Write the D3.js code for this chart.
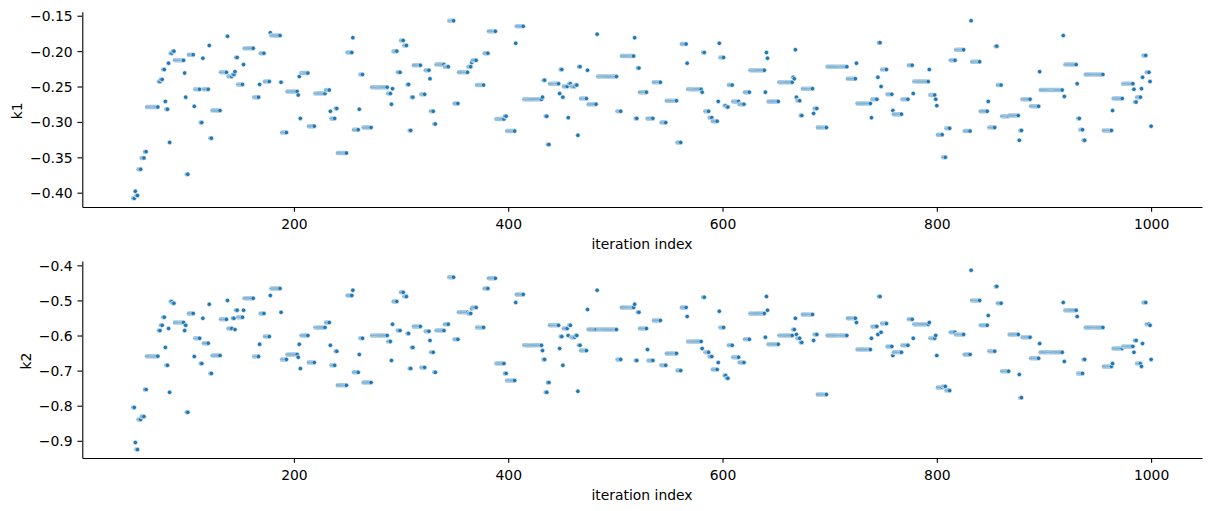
<!DOCTYPE html>
<html><head><meta charset="utf-8">
<script src="https://cdn.jsdelivr.net/npm/d3@7"></script>
<style>
body{margin:0;background:#fff}
svg{display:block}
text{font-family:"DejaVu Sans",sans-serif}
</style>
</head><body>
<svg id="chart" width="1211" height="511"></svg>
<script>
// ---- data: the chain holds a value for a run of iterations; each run ends at runEnd[i]
const iterStart = 50;
const runEnd = [
  51,52,54,57,60,62,73,75,77,79, 80,82,83,84,86,88,97,98,99,101,
  106,107,112,114,115,120,121,123,131,137, 138,142,144,145,147,152,153,162,167,168,
  172,177,178,187,188,193,203,204,205,206, 213,219,229,233,234,238,240,249,254,255,
  260,261,264,272,287,290,291,292,296,299,
  302,305,307,309,311,318,322,326,327,330, 332,340,344,349,353,362,365,366,370,377,
  381,388,396,398,406,407,414,424,431,432, 434,436,438,447,448,450,451,455,456,458,
  462,464,465,467,473,474,482,483,493,501, 505,517,518,520,522,529,530,535,542,547,
  557,561,566,567,
  578,580,581,583,587,590,595,596,597,601, 603,605,609,615,620,625,633,639,640,641,
  642,647,652,661,665,666,667,668,669,672, 674,676,684,685,688,697,702,716,724,725,
  730,738,739,744,745,747,748,753,758,759, 767,773,777,778,786,792,793,798,799,800,
  805,808,812,817,825,831,
  832,840,843,847,848,854,856,860,867,870, 876,877,879,887,895,896,911,917,918,919,
  925,930,931,933,936,938,955,963,964,968, 973,983,984,986,990,991,992,995,998,999,
  1000
];
const k1Run = [
  -0.408,-0.398,-0.404,-0.367,-0.351,-0.342,-0.279,-0.243,-0.240,-0.226, -0.271,-0.282,-0.217,-0.329,-0.203,-0.200,-0.213,-0.231,-0.265,-0.374,
  -0.205,-0.278,-0.254,-0.301,-0.210,-0.254,-0.192,-0.323,-0.284,-0.230, -0.179,-0.236,-0.233,-0.229,-0.209,-0.247,-0.219,-0.196,-0.265,-0.247,
  -0.203,-0.243,-0.174,-0.178,-0.244,-0.315,-0.257,-0.262,-0.236,-0.295, -0.231,-0.306,-0.260,-0.255,-0.285,-0.295,-0.281,-0.344,-0.202,-0.181,
  -0.311,-0.282,-0.233,-0.308,-0.251,-0.260,-0.275,-0.253,-0.200,-0.230,
  -0.185,-0.192,-0.247,-0.312,-0.265,-0.220,-0.261,-0.227,-0.239,-0.285, -0.303,-0.219,-0.222,-0.157,-0.274,-0.230,-0.222,-0.216,-0.213,-0.248,
  -0.203,-0.172,-0.296,-0.292,-0.313,-0.189,-0.165,-0.268,-0.268,-0.265, -0.241,-0.292,-0.332,-0.246,-0.260,-0.226,-0.265,-0.250,-0.294,-0.246,
  -0.250,-0.248,-0.319,-0.222,-0.267,-0.227,-0.275,-0.176,-0.236,-0.236, -0.285,-0.207,-0.181,-0.295,-0.224,-0.258,-0.295,-0.295,-0.244,-0.301,
  -0.270,-0.329,-0.190,-0.217,
  -0.254,-0.254,-0.258,-0.202,-0.285,-0.294,-0.299,-0.271,-0.189,-0.209, -0.277,-0.279,-0.248,-0.271,-0.275,-0.258,-0.227,-0.227,-0.258,-0.202,
  -0.210,-0.271,-0.271,-0.244,-0.244,-0.237,-0.239,-0.198,-0.265,-0.270, -0.291,-0.253,-0.253,-0.288,-0.281,-0.308,-0.222,-0.222,-0.239,-0.217,
  -0.274,-0.274,-0.294,-0.268,-0.237,-0.188,-0.250,-0.226,-0.261,-0.284, -0.289,-0.268,-0.220,-0.260,-0.243,-0.243,-0.226,-0.262,-0.268,-0.277,
  -0.318,-0.350,-0.309,-0.213,-0.198,-0.313,
  -0.157,-0.215,-0.285,-0.285,-0.271,-0.308,-0.193,-0.248,-0.292,-0.291, -0.291,-0.326,-0.312,-0.268,-0.278,-0.229,-0.255,-0.255,-0.178,-0.264,
  -0.219,-0.219,-0.246,-0.295,-0.311,-0.326,-0.233,-0.312,-0.284,-0.267, -0.267,-0.246,-0.254,-0.272,-0.265,-0.253,-0.237,-0.206,-0.230,-0.243,
  -0.306
];
const k2Run = [
  -0.805,-0.905,-0.925,-0.839,-0.831,-0.754,-0.659,-0.586,-0.571,-0.548, -0.634,-0.685,-0.580,-0.762,-0.503,-0.508,-0.563,-0.586,-0.571,-0.819,
  -0.537,-0.660,-0.608,-0.680,-0.551,-0.622,-0.511,-0.708,-0.657,-0.554, -0.500,-0.580,-0.551,-0.583,-0.528,-0.548,-0.528,-0.494,-0.660,-0.625,
  -0.537,-0.603,-0.486,-0.466,-0.534,-0.668,-0.654,-0.662,-0.625,-0.694, -0.600,-0.677,-0.577,-0.563,-0.628,-0.685,-0.645,-0.742,-0.486,-0.471,
  -0.705,-0.654,-0.608,-0.734,-0.600,-0.617,-0.671,-0.568,-0.503,-0.586,
  -0.477,-0.489,-0.594,-0.694,-0.634,-0.574,-0.691,-0.588,-0.614,-0.648, -0.705,-0.586,-0.568,-0.434,-0.611,-0.534,-0.537,-0.523,-0.520,-0.577,
  -0.466,-0.437,-0.680,-0.708,-0.728,-0.506,-0.483,-0.628,-0.628,-0.643, -0.668,-0.762,-0.734,-0.571,-0.637,-0.603,-0.685,-0.580,-0.600,-0.571,
  -0.605,-0.600,-0.759,-0.628,-0.643,-0.526,-0.583,-0.471,-0.583,-0.583, -0.668,-0.520,-0.511,-0.671,-0.534,-0.580,-0.640,-0.671,-0.557,-0.685,
  -0.651,-0.700,-0.520,-0.546,
  -0.617,-0.617,-0.637,-0.491,-0.648,-0.660,-0.697,-0.677,-0.531,-0.577, -0.714,-0.722,-0.628,-0.662,-0.677,-0.611,-0.537,-0.537,-0.605,-0.489,
  -0.528,-0.625,-0.625,-0.600,-0.600,-0.583,-0.583,-0.551,-0.597,-0.608, -0.620,-0.540,-0.540,-0.614,-0.597,-0.768,-0.600,-0.600,-0.551,-0.563,
  -0.640,-0.640,-0.608,-0.574,-0.597,-0.489,-0.591,-0.566,-0.631,-0.657, -0.648,-0.628,-0.554,-0.608,-0.568,-0.568,-0.563,-0.608,-0.600,-0.657,
  -0.748,-0.745,-0.757,-0.591,-0.597,-0.654,
  -0.414,-0.500,-0.571,-0.571,-0.543,-0.645,-0.460,-0.508,-0.702,-0.597, -0.597,-0.711,-0.777,-0.605,-0.665,-0.623,-0.648,-0.648,-0.506,-0.674,
  -0.528,-0.528,-0.546,-0.708,-0.708,-0.668,-0.577,-0.688,-0.680,-0.637, -0.637,-0.631,-0.648,-0.614,-0.680,-0.688,-0.623,-0.506,-0.568,-0.571,
  -0.668
];
const xTicks = [200, 400, 600, 800, 1000];
const k1Ticks = [-0.40, -0.35, -0.30, -0.25, -0.20, -0.15];
const k2Ticks = [-0.9, -0.8, -0.7, -0.6, -0.5, -0.4];
const xLabel = "iteration index";

// ---- expand runs into one point per iteration
const points = [];
let start = iterStart;
runEnd.forEach((end, i) => {
  for (let it = start; it <= end; it++) points.push({ it, k1: k1Run[i], k2: k2Run[i] });
  start = end + 1;
});

const svg = d3.select("#chart");
const FS = 13.9, TICK = 4.86, PAD = 4.86, LW = 1.1;
const x = d3.scaleLinear().domain([2.5, 1047.5]).range([82.3, 1202]);

const panels = [
  { key: "k1", label: "k1", domain: [-0.4202, -0.1443], top: 11.7, bottom: 207, ticks: k1Ticks, fmt: ".2f", labelX: 21.7 },
  { key: "k2", label: "k2", domain: [-0.949, -0.3877], top: 261, bottom: 458, ticks: k2Ticks, fmt: ".1f", labelX: 30.7 }
];

panels.forEach(p => {
  const y = d3.scaleLinear().domain(p.domain).range([p.bottom, p.top]);
  const g = svg.append("g");

  // points
  g.append("g").selectAll("circle").data(points).join("circle")
    .attr("cx", d => x(d.it))
    .attr("cy", d => y(d[p.key]))
    .attr("r", 2.25)
    .attr("fill", "#1f77b4")
    .attr("stroke", "#ffffff")
    .attr("stroke-width", 0.6);

  // left axis
  const ya = g.append("g").attr("transform", `translate(82.3,0)`)
    .call(d3.axisLeft(y).tickValues(p.ticks).tickFormat(d3.format(p.fmt))
      .tickSize(TICK).tickPadding(PAD).tickSizeOuter(0));
  ya.select(".domain").attr("stroke", "#000").attr("stroke-width", LW);
  ya.selectAll(".tick line").attr("stroke", "#000").attr("stroke-width", LW);
  ya.selectAll(".tick text").attr("font-size", FS).attr("font-family", "DejaVu Sans").attr("fill", "#000").attr("dy", "0.36em");

  // bottom axis
  const xa = g.append("g").attr("transform", `translate(0,${p.bottom})`)
    .call(d3.axisBottom(x).tickValues(xTicks).tickFormat(d3.format("d"))
      .tickSize(TICK).tickPadding(PAD).tickSizeOuter(0));
  xa.select(".domain").attr("stroke", "#000").attr("stroke-width", LW);
  xa.selectAll(".tick line").attr("stroke", "#000").attr("stroke-width", LW);
  xa.selectAll(".tick text").attr("font-size", FS).attr("font-family", "DejaVu Sans").attr("fill", "#000")
    .attr("y", 22.3).attr("dy", null);

  // axis labels
  g.append("text").attr("x", 642).attr("y", p.bottom + 41.5)
    .attr("text-anchor", "middle").attr("font-size", FS).attr("fill", "#000").text(xLabel);
  g.append("text")
    .attr("transform", `translate(${p.labelX},${(p.top + p.bottom) / 2 + 1.5}) rotate(-90)`)
    .attr("text-anchor", "middle").attr("font-size", FS).attr("fill", "#000").text(p.label);
});
</script>
</body></html>
